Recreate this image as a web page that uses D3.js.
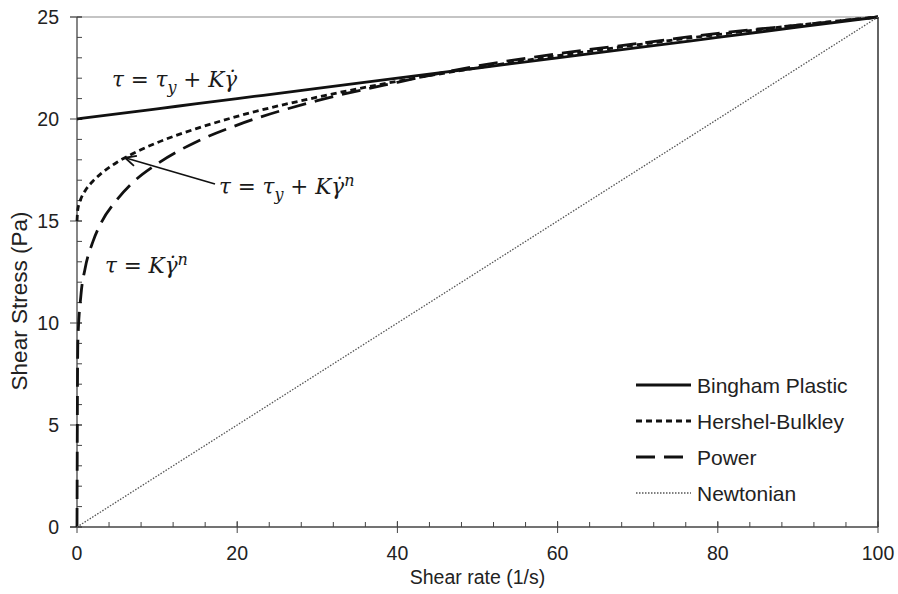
<!DOCTYPE html>
<html>
<head>
<meta charset="utf-8">
<script src="https://cdn.jsdelivr.net/npm/d3@7"></script>
<style>
    body { margin: 0; background: #fff; }
    svg { display: block; font-family: "Liberation Sans", Arial, sans-serif; }
    .tick-label { font-size: 19.5px; fill: #222; }
    .axis-title { font-size: 19.5px; fill: #222; }
    .legend text { font-size: 21px; fill: #222; }
    .eq { font-family: "DejaVu Serif", "Liberation Serif", serif; font-style: italic; font-size: 21.5px; fill: #1a1a1a; }
</style>
</head>
<body>
<div id="chart"></div>
<script>
// データ
const shearRate = [0, 0.1, 0.5, 1, 2, 3, 5, 7, 10, 15, 20, 30, 40, 50, 60, 70, 80, 90, 100];
const bingham   = [20, 20.005, 20.025, 20.05, 20.1, 20.15, 20.25, 20.35, 20.5, 20.75, 21, 21.5, 22, 22.5, 23, 23.5, 24, 24.5, 25];
const hershel   = [15, 15.56, 16.1, 16.47, 16.96, 17.32, 17.88, 18.31, 18.84, 19.54, 20.13, 21.07, 21.85, 22.51, 23.1, 23.64, 24.14, 24.6, 25];
const power     = [0, 9.0, 11.4, 12.65, 14.0, 14.9, 16.05, 16.9, 17.8, 18.9, 19.7, 20.9, 21.8, 22.6, 23.2, 23.7, 24.2, 24.6, 25];
const newtonRate   = [0, 100];
const newtonStress = [0, 25];

const xTicks = [0, 20, 40, 60, 80, 100];
const yTicks = [0, 5, 10, 15, 20, 25];
const xMinor = d3.range(0, 101, 4);
const yMinor = d3.range(0, 26, 1);

const legendNames = ['Bingham Plastic', 'Hershel-Bulkley', 'Power', 'Newtonian'];

const width = 898;
const height = 594;
const margin = { left: 77, right: 20, top: 17, bottom: 67 };

const svg = d3.select('#chart')
    .append('svg')
    .attr('width', width)
    .attr('height', height);

const x = d3.scaleLinear().domain([0, 100]).range([margin.left, width - margin.right]);
const y = d3.scaleLinear().domain([0, 25]).range([height - margin.bottom, margin.top]);

// 枠線
svg.append('line')
    .attr('x1', x(0) - 7).attr('x2', x(100))
    .attr('y1', y(25)).attr('y2', y(25))
    .attr('stroke', '#8a8a8a').attr('stroke-width', 1.2);
svg.append('line')
    .attr('x1', x(100)).attr('x2', x(100))
    .attr('y1', y(25)).attr('y2', y(0))
    .attr('stroke', '#111').attr('stroke-width', 1.3);

// 目盛り (補助目盛りは内側、主目盛りは交差)
const axisColor = '#444';
svg.append('g').selectAll('line')
    .data(yMinor)
    .enter().append('line')
    .attr('x1', x(0)).attr('x2', x(0) + 5)
    .attr('y1', d => y(d)).attr('y2', d => y(d))
    .attr('stroke', axisColor);
svg.append('g').selectAll('line')
    .data(yTicks)
    .enter().append('line')
    .attr('x1', x(0) - 7).attr('x2', x(0) + 5)
    .attr('y1', d => y(d)).attr('y2', d => y(d))
    .attr('stroke', axisColor);
svg.append('g').selectAll('line')
    .data(xMinor)
    .enter().append('line')
    .attr('x1', d => x(d)).attr('x2', d => x(d))
    .attr('y1', y(0)).attr('y2', y(0) - 5)
    .attr('stroke', axisColor);
svg.append('g').selectAll('line')
    .data(xTicks)
    .enter().append('line')
    .attr('x1', d => x(d)).attr('x2', d => x(d))
    .attr('y1', y(0) + 6).attr('y2', y(0) - 6)
    .attr('stroke', axisColor);

svg.append('line')
    .attr('x1', x(0)).attr('x2', x(0))
    .attr('y1', y(0)).attr('y2', y(25))
    .attr('stroke', axisColor).attr('stroke-width', 1.3);
svg.append('line')
    .attr('x1', x(0) - 7).attr('x2', x(100))
    .attr('y1', y(0)).attr('y2', y(0))
    .attr('stroke', axisColor).attr('stroke-width', 1.3);

// 目盛りラベル
svg.append('g').selectAll('text')
    .data(yTicks)
    .enter().append('text')
    .attr('class', 'tick-label')
    .attr('x', x(0) - 18)
    .attr('y', d => y(d))
    .attr('dy', '0.35em')
    .attr('text-anchor', 'end')
    .text(d => d);
svg.append('g').selectAll('text')
    .data(xTicks)
    .enter().append('text')
    .attr('class', 'tick-label')
    .attr('x', d => x(d))
    .attr('y', y(0) + 33)
    .attr('text-anchor', 'middle')
    .text(d => d);

// 軸タイトル
svg.append('text')
    .attr('class', 'axis-title')
    .attr('x', (x(0) + x(100)) / 2)
    .attr('y', 584)
    .attr('text-anchor', 'middle')
    .text('Shear rate (1/s)');
svg.append('text')
    .attr('class', 'axis-title')
    .attr('transform', 'translate(27, 301) rotate(-90)')
    .attr('text-anchor', 'middle')
    .style('font-size', '22.5px')
    .text('Shear Stress (Pa)');

// 系列
const styles = [
    { dash: null, width: 2.8, color: '#111' },
    { dash: '6,4', width: 2.8, color: '#111' },
    { dash: '19,9', width: 2.8, color: '#111' },
    { dash: '1.5,1.5', width: 1.3, color: '#555' }
];

const line = d3.line()
    .x(d => x(d[0]))
    .y(d => y(d[1]))
    .curve(d3.curveMonotoneX);

const series = [
    d3.zip(shearRate, bingham),
    d3.zip(shearRate, hershel),
    d3.zip(shearRate, power),
    d3.zip(newtonRate, newtonStress)
];

svg.append('g').selectAll('path')
    .data(series)
    .enter().append('path')
    .attr('d', line)
    .attr('fill', 'none')
    .attr('stroke', (d, i) => styles[i].color)
    .attr('stroke-width', (d, i) => styles[i].width)
    .attr('stroke-dasharray', (d, i) => styles[i].dash);

// 凡例
const legend = svg.append('g').attr('class', 'legend');
legendNames.forEach((name, i) => {
    const ly = 385 + i * 36;
    legend.append('line')
        .attr('x1', 636).attr('x2', 691)
        .attr('y1', ly).attr('y2', ly)
        .attr('stroke', styles[i].color)
        .attr('stroke-width', styles[i].width)
        .attr('stroke-dasharray', styles[i].dash);
    legend.append('text')
        .attr('x', 697)
        .attr('y', ly)
        .attr('dy', '0.36em')
        .text(name);
});

// 数式の注釈
function equation(px, py, parts) {
    const t = svg.append('text').attr('class', 'eq').attr('x', px).attr('y', py);
    parts.forEach(p => {
        const span = t.append('tspan').text(p.s);
        if (p.dy) span.attr('dy', p.dy);
        if (p.size) span.style('font-size', p.size);
    });
}

equation(112, 87, [
    { s: 'τ = τ' }, { s: 'y', dy: 6, size: '16px' }, { s: ' + Kγ\u0307', dy: -6 }
]);
equation(219, 194, [
    { s: 'τ = τ' }, { s: 'y', dy: 6, size: '16px' }, { s: ' + Kγ\u0307', dy: -6 }, { s: 'n', dy: -8, size: '16px' }
]);
equation(105, 273, [
    { s: 'τ = Kγ\u0307' }, { s: 'n', dy: -8, size: '16px' }
]);

// 矢印
const ax1 = 215, ay1 = 184, ax2 = x(6), ay2 = y(18.1);
svg.append('line')
    .attr('x1', ax1).attr('y1', ay1)
    .attr('x2', ax2).attr('y2', ay2)
    .attr('stroke', '#111').attr('stroke-width', 1.8);
const ang = Math.atan2(ay1 - ay2, ax1 - ax2);
[0.45, -0.45].forEach(a => {
    svg.append('line')
        .attr('x1', ax2).attr('y1', ay2)
        .attr('x2', ax2 + 12 * Math.cos(ang + a))
        .attr('y2', ay2 + 12 * Math.sin(ang + a))
        .attr('stroke', '#111').attr('stroke-width', 1.8);
});
</script>
</body>
</html>
